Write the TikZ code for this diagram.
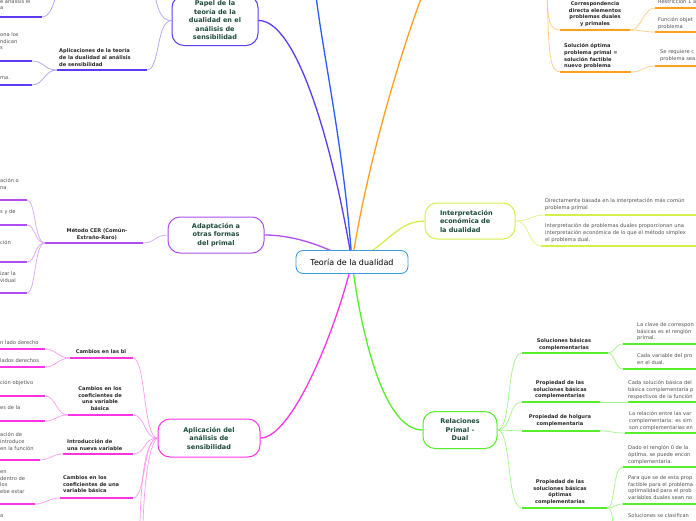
\documentclass[tikz,border=0pt]{standalone}
\usepackage{fontspec}
\setmainfont{DejaVu Sans}
\usetikzlibrary{backgrounds}
\definecolor{rootblue}{HTML}{3C9BDC}
\definecolor{bluebr}{HTML}{2B5BFF}
\definecolor{papel}{HTML}{5C3BF2}
\definecolor{adapt}{HTML}{B04DF2}
\definecolor{aplic}{HTML}{FF33E6}
\definecolor{interp}{HTML}{D4EE4A}
\definecolor{relac}{HTML}{55EE2A}
\definecolor{orgbr}{HTML}{FFA01A}
\definecolor{topicgreen}{HTML}{1C4A3A}
\definecolor{leafgray}{HTML}{505050}
\begin{document}
\begin{tikzpicture}[x=1pt,y=-1pt,
    root/.style={draw=rootblue,line width=0.9pt,rounded corners=7pt,fill=white,
      minimum width=112pt,minimum height=23pt,inner sep=0pt,font=\fontsize{8}{10}\selectfont},
    topic/.style={line width=1pt,rounded corners=12pt,fill=white,align=center,
      text=topicgreen,inner sep=0pt,font=\bfseries\fontsize{6.5}{8.5}\selectfont},
    sub/.style={inner sep=0pt,text=black!85,font=\bfseries\fontsize{5.1}{6.6}\selectfont},
    leaf/.style={inner sep=0pt,anchor=north west,align=left,text=leafgray,
      font=\fontsize{5.15}{6.6}\selectfont},
    branch/.style={line width=1.3pt},
    twig/.style={line width=0.7pt},
    uline/.style={line width=1.7pt}]
    \useasboundingbox (0,0) rectangle (696,520);
    \clip (0,0) rectangle (696,520);
    % central topic
    \node[root] (root) at (352,262) {Teoría de la dualidad};
    \coordinate (blueTop) at (316,-4);
    \coordinate (orgTop) at (422,-4);
    % main topics
    \node[topic,draw=papel,minimum width=86pt,minimum height=50pt] (papel) at (215,20.5)
      {Papel de la\\teoría de la\\dualidad en el\\análisis de\\sensibilidad};
    \node[topic,draw=adapt,minimum width=96pt,minimum height=36pt] (adapt) at (216,235)
      {Adaptación a\\otras formas\\del primal};
    \node[topic,draw=aplic,minimum width=102pt,minimum height=38pt] (aplic) at (209,438)
      {Aplicación del\\análisis de\\sensibilidad};
    \node[topic,draw=interp,minimum width=90pt,minimum height=36pt,text width=60pt,align=left] (interp) at (470,221)
      {Interpretación\\económica de\\la dualidad};
    \node[topic,draw=relac,minimum width=74pt,minimum height=37pt] (relac) at (460,430)
      {Relaciones\\Primal -\\Dual};
    \begin{pgfonlayer}{background}
      \draw[branch,bluebr] (root.center) .. controls (344,150) and (324,60) .. (blueTop);
      \draw[branch,orgbr] (root.center) .. controls (366,170) and (398,60) .. (orgTop);
      \draw[branch,papel] (papel.east) .. controls (296,20) and (332,140) .. (root.center);
      \draw[branch,adapt] (adapt.east) .. controls (296,235) and (330,248) .. (root.center);
      \draw[branch,aplic] (aplic.east) .. controls (292,438) and (336,330) .. (root.center);
      \draw[branch,interp] (root.center) .. controls (386,248) and (396,221) .. (interp.west);
      \draw[branch,relac] (root.center) .. controls (362,340) and (385,430) .. (relac.west);
    \end{pgfonlayer}

    % papel de la teoria
    \node[leaf] (pTop) at (0,-1) {e análisis el\\a};
    \draw[uline,papel] (-3,17) -- (42,17) coordinate (pTopR);
    \draw[twig,papel!50] (pTopR) .. controls (50,17) and (53,5) .. (56,-4) coordinate (pTopUp);
    \draw[twig,papel!50] (papel.west) .. controls (160,21) and (157,5) .. (155,-4) coordinate (papelUp);
    \node[sub,anchor=north west,align=left] (apTeo) at (59,48.6)
      {Aplicaciones de la teoría\\de la dualidad al análisis\\de sensibilidad};
    \draw[uline,papel] (57,70) coordinate (apTeoL) -- (147,70) coordinate (apTeoR);
    \draw[twig,papel!50] (papel.west) .. controls (156,21) and (160,70) .. (apTeoR);
    \node[leaf] (apA) at (0,32.6) {ona los\\ndican\\s};
    \node[leaf] (apB) at (0,76.6) {ma.};
    \draw[uline,papel] (-3,61) -- (32,61) coordinate (apAR);
    \draw[uline,papel] (-3,85) -- (32,85) coordinate (apBR);
    \draw[twig,papel!50] (apTeoL) .. controls (44,70) and (44,61) .. (apAR);
    \draw[twig,papel!50] (apTeoL) .. controls (44,70) and (44,85) .. (apBR);

    % adaptacion a otras formas
    \node[sub,anchor=north,align=center] (metodo) at (97,228.6) {Método CER (Común-\\Extraño-Raro)};
    \draw[uline,adapt] (45,243) coordinate (metL) -- (143,243) coordinate (metR);
    \draw[twig,adapt!50] (adapt.west) .. controls (155,235) and (155,243) .. (metR);
    \node[leaf] (m1) at (0,178.6) {ación o\\na};
    \node[leaf] (m2) at (0,209.6) {s y de};
    \node[leaf] (m3) at (0,240.6) {ción};
    \node[leaf] (m4) at (0,271.6) {izar la\\vidual};
    \foreach \y/\n in {200/m1R,225/m2R,262/m3R,293/m4R}{
      \draw[uline,adapt] (-3,\y) -- (27,\y) coordinate (\n);
      \draw[twig,adapt!50] (metL) .. controls (34,243) and (36,\y) .. (\n);
    }

    % aplicacion del analisis de sensibilidad
    \node[sub,anchor=north] (cBi) at (101,349.6) {Cambios en las bi};
    \draw[uline,aplic] (70,358) coordinate (cBiL) -- (133,358) coordinate (cBiR);
    \node[sub,anchor=north,align=center] (cCoefA) at (100,386.6)
      {Cambios en los\\coeficientes de\\una variable\\básica};
    \draw[uline,aplic] (68,415) coordinate (cCoefAL) -- (133,415) coordinate (cCoefAR);
    \node[sub,anchor=north west,align=left] (intro) at (67,439.6) {Introducción de\\una nueva variable};
    \draw[uline,aplic] (63,454) coordinate (introL) -- (133,454) coordinate (introR);
    \node[sub,anchor=north west,align=left] (cCoefB) at (63,475.6)
      {Cambios en los\\coeficientes de una\\variable básica};
    \draw[uline,aplic] (60,498) coordinate (cCoefBL) -- (133,498) coordinate (cCoefBR);
    \foreach \n in {cBiR,cCoefAR,introR,cCoefBR}
      \draw[twig,aplic!50] (aplic.west) .. controls (143,438) and (146,0|-\n) .. (\n);
    \draw[twig,aplic!50] (aplic.west) .. controls (145,440) and (141,480) .. (140,524) coordinate (aplDown1);
    \draw[twig,aplic!50] (aplic.west) .. controls (148,445) and (144,490) .. (143,524) coordinate (aplDown2);
    \node[leaf] (bi1) at (0,340.6) {n lado derecho};
    \node[leaf] (bi2) at (0,358.6) {lados derechos};
    \draw[uline,aplic] (-3,349) -- (45,349) coordinate (bi1R);
    \draw[uline,aplic] (-3,367) -- (45,367) coordinate (bi2R);
    \draw[twig,aplic!50] (cBiL) .. controls (58,358) and (56,349) .. (bi1R);
    \draw[twig,aplic!50] (cBiL) .. controls (58,358) and (56,367) .. (bi2R);
    \node[leaf] (ca1) at (0,380.6) {ción objetivo};
    \node[leaf] (ca2) at (0,405.6) {es de la};
    \draw[uline,aplic] (-3,396) -- (45,396) coordinate (ca1R);
    \draw[uline,aplic] (-3,421) -- (45,421) coordinate (ca2R);
    \draw[twig,aplic!50] (cCoefAL) .. controls (56,415) and (56,396) .. (ca1R);
    \draw[twig,aplic!50] (cCoefAL) .. controls (56,415) and (56,421) .. (ca2R);
    \node[leaf] (in1) at (0,432.6) {ación de\\introduce\\en la función};
    \draw[uline,aplic] (-3,460) -- (40,460) coordinate (in1R);
    \draw[twig,aplic!50] (introL) .. controls (52,454) and (50,460) .. (in1R);
    \node[leaf] (cb1) at (0,470.6) {en\\dentro de\\los\\ebe estar};
    \draw[uline,aplic] (-3,504) -- (35,504) coordinate (cb1R);
    \draw[twig,aplic!50] (cCoefBL) .. controls (48,498) and (46,504) .. (cb1R);
    \node[leaf] (bot) at (0,514.6) {a};

    % interpretacion economica
    \node[leaf] (ie1) at (545,198.6) {Directamente basada en la interpretación más común\\problema primal};
    \node[leaf] (ie2) at (545,223.6) {Interpretación de problemas duales proporcionan una\\interpretación económica de lo que el método simplex\\el problema dual.};
    \draw[uline,interp] (545,215) coordinate (ie1L) -- (700,215);
    \draw[uline,interp] (541,246) coordinate (ie2L) -- (700,246);
    \draw[twig,interp!70] (interp.east) .. controls (530,221) and (530,215) .. (ie1L);
    \draw[twig,interp!70] (interp.east) .. controls (530,221) and (528,246) .. (ie2L);

    % relaciones primal - dual
    \node[sub,anchor=north,align=center] (solBas) at (564,338.6) {Soluciones básicas\\complementarias};
    \draw[uline,relac] (522,353) coordinate (solBasL) -- (608,353) coordinate (solBasR);
    \node[sub,anchor=north,align=center] (propSol) at (560,380.6) {Propiedad de las\\soluciones básicas\\complementarias};
    \draw[uline,relac] (522,402) coordinate (propSolL) -- (600,402) coordinate (propSolR);
    \node[sub,anchor=north,align=center] (holg) at (560,414.6) {Propiedad de holgura\\complementaria};
    \draw[uline,relac] (522,431) coordinate (holgL) -- (600,431) coordinate (holgR);
    \node[sub,anchor=north,align=center] (propOpt) at (560,479.6) {Propiedad de las\\soluciones básicas\\óptimas\\complementarias};
    \draw[uline,relac] (522,508) coordinate (propOptL) -- (607,508) coordinate (propOptR);
    \draw[twig,relac!55] (relac.east) .. controls (512,430) and (506,353) .. (solBasL);
    \draw[twig,relac!55] (relac.east) .. controls (512,430) and (508,402) .. (propSolL);
    \draw[twig,relac!55] (relac.east) -- (holgL);
    \draw[twig,relac!55] (relac.east) .. controls (512,430) and (506,508) .. (propOptL);
    \node[leaf] (sb1) at (637,322.6) {La clave de correspon\\básicas es el renglón\\primal.};
    \node[leaf] (sb2) at (637,353.6) {Cada variable del pro\\en el dual.};
    \draw[uline,relac] (623,344) coordinate (sb1L) -- (700,344);
    \draw[uline,relac] (623,369) coordinate (sb2L) -- (700,369);
    \draw[twig,relac!55] (solBasR) .. controls (615,353) and (615,344) .. (sb1L);
    \draw[twig,relac!55] (solBasR) .. controls (615,353) and (615,369) .. (sb2L);
    \node[leaf] (ps1) at (628,380.6) {Cada solución básica del\\básica complementaria p\\respectivos de la función};
    \draw[uline,relac] (628,402) coordinate (ps1L) -- (700,402);
    \draw[twig,relac!55] (propSolR) -- (ps1L);
    \node[leaf] (hc1) at (629,411.6) {La relación entre las var\\complementaria: es sim\\son complementarias en};
    \draw[uline,relac] (625,433) coordinate (hc1L) -- (700,433);
    \draw[twig,relac!55] (holgR) .. controls (612,431) and (612,433) .. (hc1L);
    \node[leaf] (po1) at (628,445.6) {Dado el renglón 0 de la\\óptima, se puede encon\\complementaria.};
    \node[leaf] (po2) at (628,475.6) {Para que se de esta prop\\factible para el problema\\optimalidad para el prob\\variables duales sean no};
    \node[leaf] (po3) at (628,513.6) {Soluciones se clasifican};
    \draw[uline,relac] (623,467) coordinate (po1L) -- (700,467);
    \draw[uline,relac] (623,504) coordinate (po2L) -- (700,504);
    \draw[twig,relac!55] (propOptR) .. controls (616,508) and (612,467) .. (po1L);
    \draw[twig,relac!55] (propOptR) .. controls (615,508) and (615,504) .. (po2L);
    \draw[twig,relac!55] (propOptR) .. controls (612,508) and (612,515) .. (613,524) coordinate (poDown);

    % correspondencia y solucion optima
    \coordinate (orgHub) at (547,-4);
    \node[sub,anchor=north,align=center] (corr) at (595,1.6) {Correspondencia\\directa elementos\\problemas duales\\y primales};
    \draw[uline,orgbr] (560,30) coordinate (corrL) -- (630,30) coordinate (corrR);
    \node[sub,anchor=north west,align=left] (solOpt) at (564,43.6) {Solución óptima\\problema primal =\\solución factible\\nuevo problema};
    \draw[uline,orgbr] (560,72) coordinate (solOptL) -- (631,72) coordinate (solOptR);
    \draw[twig,orgbr!55] (orgHub) .. controls (548,20) and (549,30) .. (corrL);
    \draw[twig,orgbr!55] (orgHub) .. controls (549,50) and (549,72) .. (solOptL);
    \node[leaf] (r1) at (658,-0.4) {Restricción 1 a};
    \node[leaf] (f1) at (658,17.6) {Función objet\\problema};
    \node[leaf] (s1) at (660,49.6) {Se requiere c\\problema sea};
    \draw[uline,orgbr] (655,8) coordinate (r1L) -- (700,8);
    \draw[uline,orgbr] (655,32) coordinate (f1L) -- (700,32);
    \draw[uline,orgbr] (655,66) coordinate (s1L) -- (700,66);
    \draw[twig,orgbr!55] (corrR) .. controls (642,30) and (643,8) .. (r1L);
    \draw[twig,orgbr!55] (corrR) .. controls (642,30) and (643,32) .. (f1L);
    \draw[twig,orgbr!55] (solOptR) .. controls (643,72) and (643,66) .. (s1L);
  \end{tikzpicture}
\end{document}
